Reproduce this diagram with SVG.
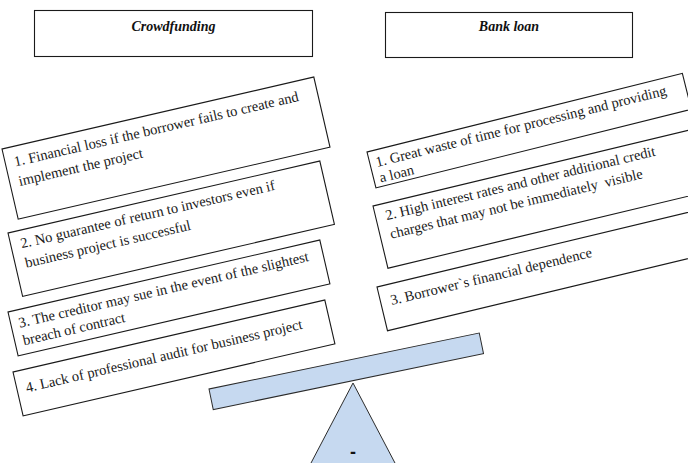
<svg xmlns="http://www.w3.org/2000/svg" width="688" height="463" viewBox="0 0 688 463">
  <style>
    .box { fill: #ffffff; stroke: #1a1a1a; stroke-width: 1.1; }
    .head { font-family: "Liberation Serif", "Times New Roman", serif; font-size: 14px; font-weight: bold; font-style: italic; fill: #111; text-anchor: middle; }
    .item { font-family: "Liberation Serif", "Times New Roman", serif; font-size: 14.5px; fill: #1a1a1a; }
    .scale { fill: #c6d9f0; stroke: #2b2b2b; stroke-width: 1; }
    .sign { font-family: "Liberation Sans", Arial, sans-serif; font-size: 18px; font-weight: bold; fill: #111; text-anchor: middle; }
  </style>

  <!-- column headers -->
  <g id="head-crowdfunding">
    <rect class="box" x="34.5" y="10.5" width="278" height="46"/>
    <text class="head" x="173.5" y="31">Crowdfunding</text>
  </g>
  <g id="head-bankloan">
    <rect class="box" x="385.5" y="12.5" width="247" height="45"/>
    <text class="head" x="509" y="31">Bank loan</text>
  </g>

  <!-- crowdfunding drawbacks (tilted cards) -->
  <g id="cf-1" transform="translate(2,149) rotate(-13)">
    <rect class="box" x="0" y="0" width="320" height="72"/>
    <text class="item" x="9" y="20">1. Financial loss if the borrower fails to create and</text>
    <text class="item" x="9" y="40">implement the project</text>
  </g>
  <g id="cf-2" transform="translate(8,233) rotate(-13)">
    <rect class="box" x="0" y="0" width="320" height="65"/>
    <text class="item" x="10" y="18">2. No guarantee of return to investors even if</text>
    <text class="item" x="10" y="38">business project is successful</text>
  </g>
  <g id="cf-3" transform="translate(8,312) rotate(-13)">
    <rect class="box" x="0" y="0" width="320" height="45"/>
    <text class="item" x="8" y="18">3. The creditor may sue in the event of the slightest</text>
    <text class="item" x="8" y="36">breach of contract</text>
  </g>
  <g id="cf-4" transform="translate(13,372) rotate(-13)">
    <rect class="box" x="0" y="0" width="320" height="45"/>
    <text class="item" x="9" y="23">4. Lack of professional audit for business project</text>
  </g>

  <!-- bank loan drawbacks (tilted cards) -->
  <g id="bl-1" transform="translate(367,152) rotate(-14)">
    <rect class="box" x="0" y="0" width="325" height="37"/>
    <text class="item" x="6" y="17">1. Great waste of time for processing and providing</text>
    <text class="item" x="6" y="33">a loan</text>
  </g>
  <g id="bl-2" transform="translate(373,206) rotate(-13.5)">
    <rect class="box" x="0" y="0" width="326" height="64"/>
    <text class="item" x="10" y="17" xml:space="preserve">2. High interest rates and other additional credit</text>
    <text class="item" x="10" y="36" xml:space="preserve">charges that may not be immediately  visible</text>
  </g>
  <g id="bl-3" transform="translate(377,287) rotate(-13.5)">
    <rect class="box" x="0" y="0" width="340" height="45"/>
    <text class="item" x="10" y="21">3. Borrower`s financial dependence</text>
  </g>

  <!-- balance: beam and fulcrum -->
  <g id="beam">
    <rect class="scale" x="0" y="0" width="276" height="21" transform="translate(209,389) rotate(-11.7)"/>
  </g>
  <g id="fulcrum">
    <polygon class="scale" points="353,383 300,484 406,484"/>
    <text class="sign" x="353" y="458">-</text>
  </g>
</svg>
